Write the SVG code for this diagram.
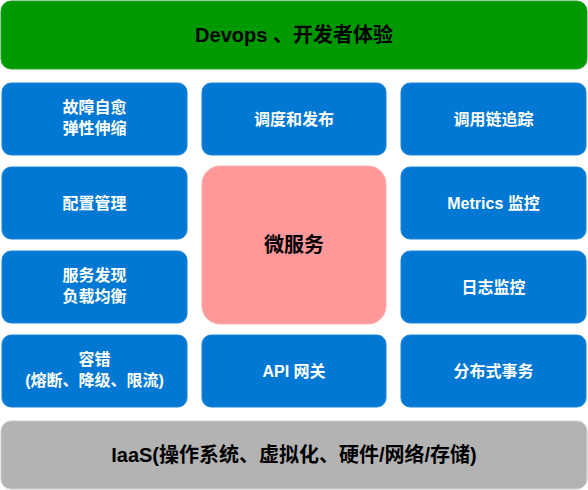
<svg xmlns="http://www.w3.org/2000/svg" width="588" height="490" viewBox="0 0 588 490">
<style>
text{font-family:"Liberation Sans","Noto Sans CJK SC",sans-serif;font-weight:bold;text-anchor:middle;dominant-baseline:central}
.b rect{fill:#0078d4;stroke:#1a84d8;stroke-width:1}
.b text{fill:#fff;font-size:16px}
.t{fill:#000;font-size:20px}
</style>
<rect width="588" height="490" fill="#fff"/>
<g id="devops"><rect x="1" y="1" width="586" height="68" rx="10" fill="#009900" stroke="#2aa32a"/><text class="t" x="294" y="35">Devops 、开发者体验</text></g>
<g id="n1" class="b"><rect x="2" y="83" width="185" height="72" rx="9"/><text x="94.5" y="107">故障自愈</text><text x="94.5" y="128">弹性伸缩</text></g>
<g id="n2" class="b"><rect x="202" y="83" width="184" height="72" rx="9"/><text x="294" y="119">调度和发布</text></g>
<g id="n3" class="b"><rect x="401" y="83" width="185" height="72" rx="9"/><text x="493.5" y="119">调用链追踪</text></g>
<g id="n4" class="b"><rect x="2" y="167" width="185" height="72" rx="9"/><text x="94.5" y="203">配置管理</text></g>
<g id="n5" class="b"><rect x="401" y="167" width="185" height="72" rx="9"/><text x="493.5" y="203">Metrics 监控</text></g>
<g id="n6" class="b"><rect x="2" y="251" width="185" height="72" rx="9"/><text x="94.5" y="275">服务发现</text><text x="94.5" y="296">负载均衡</text></g>
<g id="n7" class="b"><rect x="401" y="251" width="185" height="72" rx="9"/><text x="493.5" y="287">日志监控</text></g>
<g id="n8" class="b"><rect x="2" y="335" width="185" height="72" rx="9"/><text x="94.5" y="359">容错</text><text x="94.5" y="380">(熔断、降级、限流)</text></g>
<g id="n9" class="b"><rect x="202" y="335" width="184" height="72" rx="9"/><text x="294" y="371">API 网关</text></g>
<g id="n10" class="b"><rect x="401" y="335" width="185" height="72" rx="9"/><text x="493.5" y="371">分布式事务</text></g>
<g id="micro"><rect x="202" y="166" width="184" height="158" rx="18" fill="#ff9999" stroke="#ffb0b0"/><text class="t" x="294" y="245">微服务</text></g>
<g id="iaas"><rect x="1" y="421" width="586" height="68" rx="10" fill="#b3b3b3" stroke="#cccccc"/><text class="t" x="294" y="455" fill="#222">IaaS(操作系统、虚拟化、硬件/网络/存储)</text></g>
<g id="connectors"></g>
</svg>
